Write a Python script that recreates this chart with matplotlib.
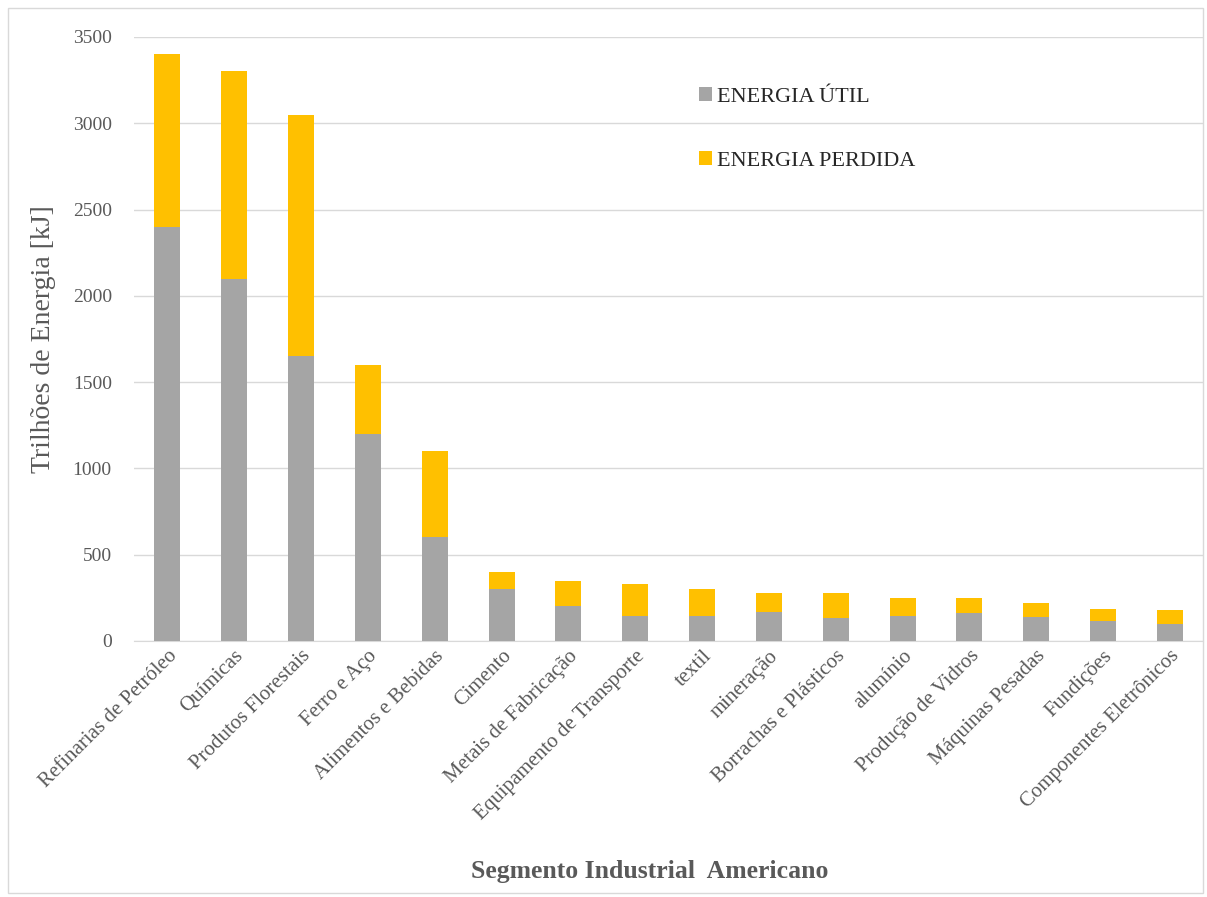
import numpy as np
import matplotlib.pyplot as plt
from matplotlib.patches import Rectangle

segmentos = ['Refinarias de Petróleo', 'Químicas', 'Produtos Florestais', 'Ferro e Aço',
             'Alimentos e Bebidas', 'Cimento', 'Metais de Fabricação',
             'Equipamento de Transporte', 'textil', 'mineração', 'Borrachas e Plásticos',
             'alumínio', 'Produção de Vidros', 'Máquinas Pesadas', 'Fundições',
             'Componentes Eletrônicos']
energia_util = [2400, 2100, 1650, 1200, 600, 300, 200, 145, 145, 170, 135, 145, 160, 140, 115, 100]
energia_total = [3400, 3300, 3050, 1600, 1100, 400, 345, 330, 300, 280, 280, 250, 250, 220, 185, 180]
energia_perdida = [t - u for t, u in zip(energia_total, energia_util)]
yticks = [0, 500, 1000, 1500, 2000, 2500, 3000, 3500]

plt.rcParams['font.family'] = ['Liberation Serif', 'DejaVu Serif']
cinza_txt = '#595959'

fig = plt.figure(figsize=(12.07, 8.97), dpi=100)
ax = fig.add_axes([0.111, 0.2854, 0.886, 0.6734])

x = np.arange(len(segmentos))
ax.bar(x, energia_util, width=0.39, color='#A5A5A5', label='ENERGIA ÚTIL', zorder=3)
ax.bar(x, energia_perdida, width=0.39, bottom=energia_util, color='#FFC000',
       label='ENERGIA PERDIDA', zorder=3)

ax.set_xlim(-0.5, len(segmentos) - 0.5)
ax.set_ylim(0, 3500)
ax.set_yticks(yticks)
ax.yaxis.grid(True, color='#D9D9D9', linewidth=1, zorder=0)
ax.tick_params(axis='y', length=0, labelsize=14, colors=cinza_txt, pad=16)
ax.tick_params(axis='x', length=0, labelsize=15, colors=cinza_txt, pad=4)
ax.set_xticks(x)
ax.set_xticklabels(segmentos, rotation=45, ha='right', rotation_mode='anchor')
for s in ['top', 'right', 'left']:
    ax.spines[s].set_visible(False)
ax.spines['bottom'].set_color('#D9D9D9')

ax.set_ylabel('Trilhões de Energia [kJ]', fontsize=20, color=cinza_txt, labelpad=12)
fig.text(0.538, 0.028, 'Segmento Industrial  Americano', fontsize=18.5, fontweight='bold',
         color=cinza_txt, ha='center', va='center')

leg = ax.legend(loc='upper left', bbox_to_anchor=(0.51, 0.95), frameon=False,
                fontsize=16, handlelength=0.55, handleheight=0.55, handletextpad=0.25,
                labelspacing=2.0)
for t in leg.get_texts():
    t.set_color('#262626')

fig.patches.append(Rectangle((0.007, 0.005), 0.99, 0.986, transform=fig.transFigure,
                             fill=False, edgecolor='#D9D9D9', linewidth=1))

fig.savefig('out.png', dpi=100)
